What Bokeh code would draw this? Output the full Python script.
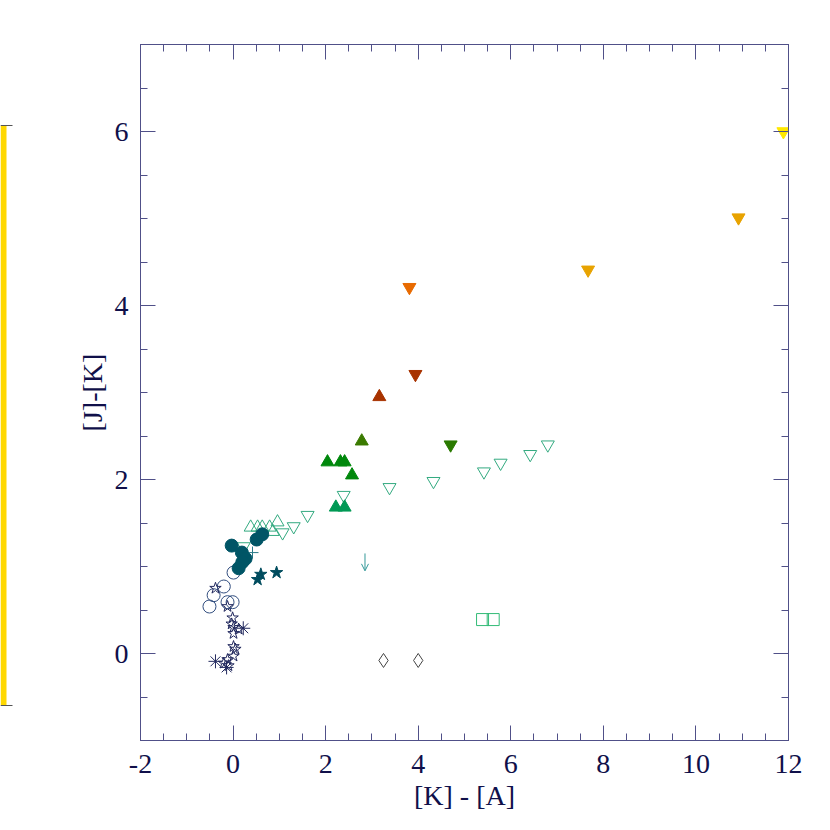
from bokeh.plotting import figure
from bokeh.layouts import row
from bokeh.models import (Range1d, LinearAxis, FixedTicker, ColumnDataSource,
                          Arrow, OpenHead, CustomJSTickFormatter)
from bokeh.embed import file_html
from bokeh.resources import INLINE

# ---------------- data ----------------
yellow_dn_x = [11.89]; yellow_dn_y = [6.0]
orange_dn_x = [10.92, 7.67]; orange_dn_y = [5.01, 4.41]
dorange_dn_x = [3.81]; dorange_dn_y = [4.21]
red_dn_x = [3.94]; red_dn_y = [3.21]
red_up_x = [3.16]; red_up_y = [2.95]
olive_up_x = [2.78]; olive_up_y = [2.44]
olive_dn_x = [4.70]; olive_dn_y = [2.40]
green_up_x = [2.04, 2.32, 2.41, 2.57]; green_up_y = [2.20, 2.20, 2.20, 2.05]
sea_up_x = [2.22, 2.41]; sea_up_y = [1.68, 1.68]
open_up_x = [0.38, 0.53, 0.63, 0.79, 0.96, 0.86]
open_up_y = [1.45, 1.45, 1.45, 1.45, 1.51, 1.40]
open_dn_x = [2.39, 3.38, 4.33, 5.42, 5.78, 6.42, 6.80, 1.61, 1.31, 1.07, 0.23]
open_dn_y = [1.82, 1.91, 1.98, 2.09, 2.19, 2.29, 2.40, 1.59, 1.46, 1.39, 1.23]
fcirc_x = [-0.03, 0.19, 0.27, 0.20, 0.12, 0.51, 0.63]
fcirc_y = [1.24, 1.16, 1.09, 1.05, 0.98, 1.31, 1.37]
cross_x = [0.42]; cross_y = [1.16]
dstar_x = [0.60, 0.53, 0.94]; dstar_y = [0.91, 0.85, 0.93]
ocirc_x = [0.01, -0.20, -0.42, -0.51, -0.12, -0.01]
ocirc_y = [0.93, 0.77, 0.67, 0.54, 0.59, 0.59]
nstar_x = [-0.38, -0.12, -0.01, -0.03, 0.01, 0.01, 0.12, 0.01, 0.05, 0.01, -0.12, -0.20, -0.10]
nstar_y = [0.75, 0.54, 0.41, 0.34, 0.30, 0.23, 0.28, 0.08, 0.05, -0.03, -0.07, -0.11, -0.14]
ast_x = [0.22, -0.38, -0.14]; ast_y = [0.29, -0.09, -0.16]
sq_x = [5.39, 5.62]; sq_y = [0.39, 0.39]
dia_x = [3.25, 4.00]; dia_y = [-0.08, -0.08]
lim_x = [2.85]; lim_y = [0.95]

x_ticks = [-2, 0, 2, 4, 6, 8, 10, 12]
y_ticks = [0, 2, 4, 6]

FONT = "'Times New Roman', 'Liberation Serif', Tinos, serif"
TXT = "#10104a"
AX = "#505088"

# ---------------- main figure ----------------
p = figure(width=806, height=822, output_backend="svg", toolbar_location=None,
           x_range=Range1d(-2, 12), y_range=Range1d(-1, 7),
           min_border_left=116, min_border_right=42, min_border_top=44,
           min_border_bottom=82, x_axis_location=None, y_axis_location=None)
p.grid.visible = False
p.outline_line_color = AX
p.background_fill_color = "white"
p.border_fill_color = "white"

minor_x = [v / 2 for v in range(-4, 25)]
minor_y = [v / 2 for v in range(-2, 15)]


def style_axis(ax, show_labels):
    ax.axis_line_color = AX
    ax.major_tick_line_color = AX
    ax.minor_tick_line_color = AX
    ax.major_tick_in = 15
    ax.major_tick_out = 0
    ax.minor_tick_in = 7
    ax.minor_tick_out = 0
    ax.major_label_text_font = FONT
    ax.major_label_text_font_size = "28px"
    ax.major_label_text_color = TXT
    ax.axis_label_text_font = FONT
    ax.axis_label_text_font_size = "28px"
    ax.axis_label_text_font_style = "normal"
    ax.axis_label_text_color = TXT
    if not show_labels:
        ax.formatter = CustomJSTickFormatter(code="return ''")
        ax.major_label_text_font_size = "0px"


bx = LinearAxis(ticker=FixedTicker(ticks=x_ticks, minor_ticks=minor_x), axis_label="[K] - [A]")
style_axis(bx, True)
bx.major_label_overrides = {t: str(t) for t in x_ticks}
bx.major_label_standoff = 14
bx.axis_label_standoff = 4
p.add_layout(bx, "below")

tx = LinearAxis(ticker=FixedTicker(ticks=x_ticks, minor_ticks=minor_x))
style_axis(tx, False)
p.add_layout(tx, "above")

ly = LinearAxis(ticker=FixedTicker(ticks=y_ticks, minor_ticks=minor_y), axis_label="[J]-[K]")
style_axis(ly, True)
ly.major_label_overrides = {t: str(t) for t in y_ticks}
ly.major_label_standoff = 12
ly.axis_label_standoff = 4
p.add_layout(ly, "left")

ry = LinearAxis(ticker=FixedTicker(ticks=y_ticks, minor_ticks=minor_y))
style_axis(ry, False)
p.add_layout(ry, "right")

TS = 13  # triangle size


def filled(x, y, marker, color, size=TS):
    p.scatter(x, y, marker=marker, size=size, fill_color=color, line_color=color, line_width=1)


def hollow(x, y, marker, color, size=TS, lw=1):
    p.scatter(x, y, marker=marker, size=size, fill_color=None, line_color=color, line_width=lw)


hollow(open_up_x, open_up_y, "triangle", "#33aa80")
hollow(open_dn_x, open_dn_y, "inverted_triangle", "#33aa80")
hollow(ocirc_x, ocirc_y, "circle", "#334f80", size=13)
hollow(nstar_x, nstar_y, "star", "#22295e", size=12)
hollow(ast_x, ast_y, "asterisk", "#22295e", size=14)
hollow(cross_x, cross_y, "cross", "#2a7a88", size=12)
filled(fcirc_x, fcirc_y, "circle", "#005566", size=13)
filled(dstar_x, dstar_y, "star", "#004c5e", size=13)
filled(sea_up_x, sea_up_y, "triangle", "#009955")
filled(green_up_x, green_up_y, "triangle", "#00880c")
filled(olive_up_x, olive_up_y, "triangle", "#3a7a00")
filled(olive_dn_x, olive_dn_y, "inverted_triangle", "#2a7a00")
filled(red_up_x, red_up_y, "triangle", "#a83300")
filled(red_dn_x, red_dn_y, "inverted_triangle", "#a83300")
filled(dorange_dn_x, dorange_dn_y, "inverted_triangle", "#e86a00")
filled(orange_dn_x, orange_dn_y, "inverted_triangle", "#e8a300")
filled(yellow_dn_x, yellow_dn_y, "inverted_triangle", "#ffe800")
hollow(sq_x, sq_y, "square", "#33bb77", size=12)
hollow(dia_x, dia_y, "diamond", "#444444", size=14)

lim_src = ColumnDataSource(dict(x=lim_x, y=lim_y, y0=[v + 0.2 for v in lim_y]))
p.add_layout(Arrow(end=OpenHead(size=7, line_color="#339999", line_width=1),
                   x_start="x", y_start="y0", x_end="x", y_end="y",
                   line_color="#339999", line_width=1, source=lim_src))

# ---------------- left bar strip (frame is aligned with the main frame: page y 44..740) ----------------
s = figure(width=24, height=822, output_backend="svg", toolbar_location=None,
           x_range=Range1d(0, 24), y_range=Range1d(740, 44),
           min_border=0, x_axis_location=None, y_axis_location=None)
s.grid.visible = False
s.outline_line_color = None
s.background_fill_color = None
s.border_fill_color = None
s.quad(left=[0], right=[6], top=[125], bottom=[705], fill_color="#ffd800", line_color=None)
s.segment(x0=[0, 0], y0=[125, 705], x1=[12, 12], y1=[125, 705], line_color="#555555", line_width=1)

layout = row(s, p)
open("out.html", "w").write(file_html(layout, INLINE))
